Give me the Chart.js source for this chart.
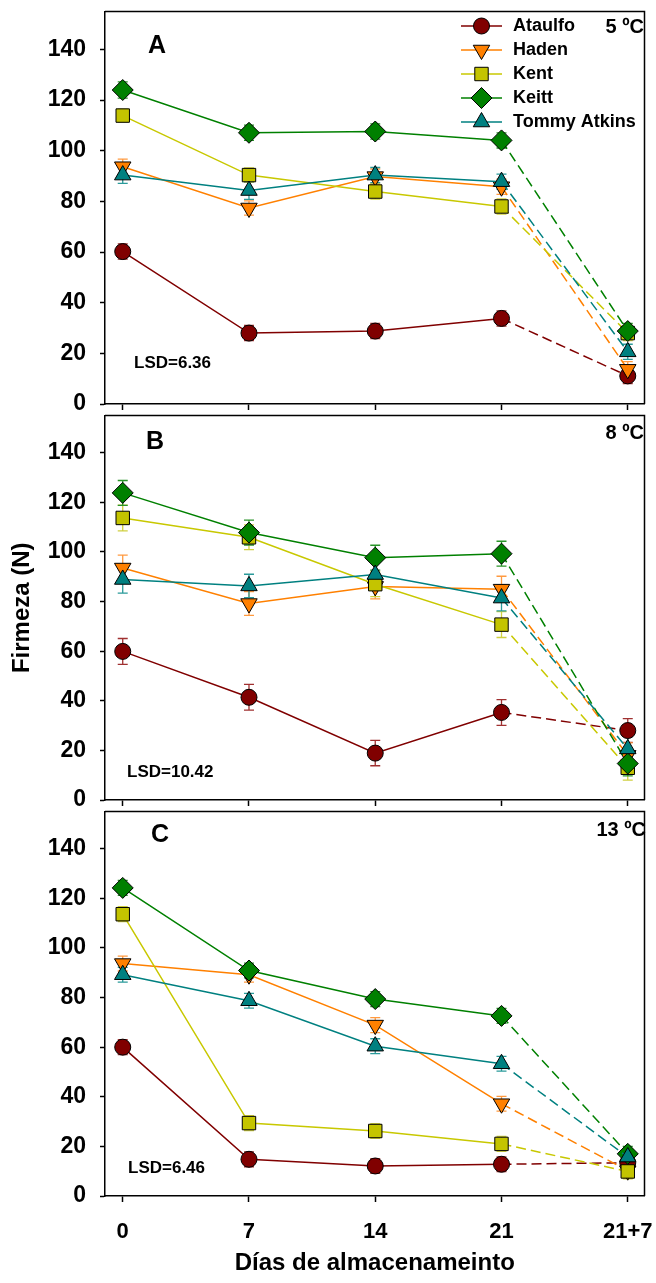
<!DOCTYPE html>
<html><head><meta charset="utf-8">
<script src="https://cdn.jsdelivr.net/npm/chart.js@4.4.0/dist/chart.umd.min.js"></script>
<style>
html,body{margin:0;padding:0;background:#fff}
body{width:656px;height:1283px;position:relative;overflow:hidden}
canvas{position:absolute;left:0}
</style></head><body>
<canvas id="cA" width="656" height="424" style="top:0px"></canvas>
<canvas id="cB" width="656" height="416" style="top:404px"></canvas>
<canvas id="cC" width="656" height="483" style="top:800px"></canvas>
<script>
// ---------- DATA ----------
const categories = ['0', '7', '14', '21', '21+7'];
const xPositions = [0, 1, 2, 3, 4];
const seriesNames = ['Ataulfo', 'Haden', 'Kent', 'Keitt', 'Tommy Atkins'];
const yTicks = [0, 20, 40, 60, 80, 100, 120, 140];

// Panel A (5 ºC)
const A_ataulfo = [60.2, 28.0, 28.8, 33.8, 11.1];
const A_haden   = [93.7, 77.4, 89.8, 85.8, 13.7];
const A_kent    = [113.9, 90.4, 83.9, 78.0, 28.0];
const A_keitt   = [124.0, 107.1, 107.6, 104.1, 28.8];
const A_tommy   = [90.4, 84.3, 90.4, 87.8, 20.6];
const A_ataulfoErr = [3.0, 3.0, 3.0, 3.0, 3.0];
const A_hadenErr   = [3.0, 2.8, 3.0, 3.0, 3.0];
const A_kentErr    = [2.5, 2.8, 3.0, 3.0, 3.0];
const A_keittErr   = [3.2, 3.0, 3.0, 3.0, 3.0];
const A_tommyErr   = [3.3, 3.5, 3.0, 3.0, 3.0];

// Panel B (8 ºC)
const B_ataulfo = [59.9, 41.4, 18.9, 35.3, 28.0];
const B_haden   = [93.5, 79.2, 86.1, 85.0, 18.0];
const B_kent    = [113.7, 105.9, 87.0, 70.7, 13.0];
const B_keitt   = [123.8, 107.8, 97.7, 99.3, 14.7];
const B_tommy   = [88.9, 86.3, 90.9, 81.4, 20.6];
const B_ataulfoErr = [5.2, 5.2, 5.1, 5.2, 4.8];
const B_hadenErr   = [5.2, 4.8, 5.0, 5.2, 5.0];
const B_kentErr    = [5.2, 5.0, 5.0, 5.2, 5.0];
const B_keittErr   = [5.0, 5.0, 5.0, 5.0, 5.0];
const B_tommyErr   = [5.5, 4.7, 5.0, 5.2, 5.0];

// Panel C (13 ºC)
const C_ataulfo = [60.0, 14.8, 12.1, 12.8, 13.4];
const C_haden   = [93.7, 89.2, 68.9, 37.2, 10.2];
const C_kent    = [113.6, 29.4, 26.2, 21.0, 9.9];
const C_keitt   = [124.2, 90.9, 79.4, 72.6, 17.0];
const C_tommy   = [89.2, 78.7, 60.4, 53.3, 15.7];
const C_ataulfoErr = [3.0, 3.0, 3.0, 3.0, 3.0];
const C_hadenErr   = [3.0, 3.0, 3.0, 3.0, 3.0];
const C_kentErr    = [3.0, 3.0, 3.0, 3.0, 3.0];
const C_keittErr   = [3.0, 3.0, 3.0, 3.0, 3.0];
const C_tommyErr   = [3.0, 3.0, 3.0, 3.0, 3.0];

// ---------- STYLE ----------
const FONT = "'Liberation Sans', Arial, sans-serif";
const styles = [
  { line: '#800000', fill: '#800000', err: '#a03030', pointStyle: 'circle',   radius: 8,   rotation: 0 },
  { line: '#ff8000', fill: '#ff8000', err: '#ff9a40', pointStyle: 'triangle', radius: 9.5, rotation: 180 },
  { line: '#c8c800', fill: '#c4c400', err: '#d0d040', pointStyle: 'rect',     radius: 9.5, rotation: 0 },
  { line: '#008000', fill: '#008000', err: '#2a942a', pointStyle: 'rectRot',  radius: 10.5, rotation: 0 },
  { line: '#008080', fill: '#008080', err: '#2a9a9a', pointStyle: 'triangle', radius: 9.5, rotation: 0 }
];

function buildDatasets(valueArrays, errArrays) {
  return valueArrays.map((vals, i) => {
    const s = styles[i];
    return {
      label: seriesNames[i],
      data: xPositions.map((x, j) => ({ x: x, y: vals[j] })),
      errors: errArrays[i],
      errColor: s.err,
      borderColor: s.line,
      backgroundColor: s.fill,
      borderWidth: 1.5,
      pointStyle: s.pointStyle,
      pointRadius: s.radius,
      pointRotation: s.rotation,
      pointBackgroundColor: s.fill,
      pointBorderColor: '#000',
      pointBorderWidth: 1,
      fill: false,
      tension: 0,
      order: 4 - i,
      segment: { borderDash: ctx => ctx.p1DataIndex === 4 ? [10, 5] : undefined }
    };
  });
}

function zeroPad(s) { s.paddingLeft = 0; s.paddingRight = 0; s.paddingTop = 0; s.paddingBottom = 0; }

// ---------- PLUGINS ----------
const errorBarPlugin = {
  id: 'errorBars',
  beforeDatasetsDraw(chart) {
    const { ctx } = chart;
    const xs = chart.scales.x, ys = chart.scales.y;
    chart.data.datasets.forEach(ds => {
      ctx.save();
      ctx.strokeStyle = ds.errColor;
      ctx.lineWidth = 1.3;
      ds.data.forEach((p, i) => {
        const e = ds.errors[i];
        const px = xs.getPixelForValue(p.x);
        const y1 = ys.getPixelForValue(p.y + e);
        const y2 = ys.getPixelForValue(p.y - e);
        ctx.beginPath();
        ctx.moveTo(px, y1); ctx.lineTo(px, y2);
        ctx.moveTo(px - 5, y1); ctx.lineTo(px + 5, y1);
        ctx.moveTo(px - 5, y2); ctx.lineTo(px + 5, y2);
        ctx.stroke();
      });
      ctx.restore();
    });
  }
};

const framePlugin = {
  id: 'frame',
  afterDraw(chart) {
    const { ctx, chartArea: a } = chart;
    ctx.save();
    ctx.strokeStyle = '#000';
    ctx.lineWidth = 1.5;
    ctx.beginPath();
    ctx.moveTo(a.left, a.top); ctx.lineTo(a.right, a.top); ctx.lineTo(a.right, a.bottom);
    ctx.stroke();
    ctx.restore();
  }
};

const panelTextPlugin = {
  id: 'panelText',
  afterDraw(chart, args, opts) {
    const { ctx } = chart;
    (opts.items || []).forEach(it => {
      ctx.save();
      ctx.fillStyle = '#000';
      ctx.font = 'bold ' + it.size + 'px ' + FONT;
      ctx.textAlign = it.align || 'left';
      ctx.textBaseline = 'middle';
      ctx.fillText(it.text, it.x, it.y);
      ctx.restore();
    });
  }
};

const legendPlugin = {
  id: 'customLegend',
  afterDraw(chart, args, opts) {
    if (!opts.show) return;
    const { ctx } = chart;
    chart.data.datasets.forEach((ds, i) => {
      const y = opts.y0 + i * opts.dy;
      ctx.save();
      ctx.strokeStyle = ds.borderColor;
      ctx.lineWidth = 1.5;
      ctx.beginPath(); ctx.moveTo(opts.x0, y); ctx.lineTo(opts.x1, y); ctx.stroke();
      ctx.fillStyle = ds.pointBackgroundColor;
      ctx.strokeStyle = '#000';
      ctx.lineWidth = 1;
      Chart.helpers.drawPoint(ctx, { pointStyle: ds.pointStyle, radius: ds.pointRadius, rotation: ds.pointRotation, borderWidth: 1 }, (opts.x0 + opts.x1) / 2, y);
      ctx.fillStyle = '#000';
      ctx.font = 'bold 18px ' + FONT;
      ctx.textAlign = 'left';
      ctx.textBaseline = 'middle';
      ctx.fillText(ds.label, opts.xt, y);
      ctx.restore();
    });
  }
};

// ---------- CHARTS ----------
function makeChart(id, datasets, cfg) {
  return new Chart(document.getElementById(id), {
    type: 'line',
    data: { datasets: datasets },
    plugins: [errorBarPlugin, framePlugin, panelTextPlugin, legendPlugin],
    options: {
      responsive: false,
      animation: false,
      devicePixelRatio: 1,
      layout: { padding: { top: cfg.padTop, right: 3, left: 0, bottom: cfg.padBottom } },
      plugins: {
        legend: { display: false },
        tooltip: { enabled: false },
        panelText: { items: cfg.texts },
        customLegend: cfg.legend || { show: false }
      },
      scales: {
        x: {
          type: 'linear',
          min: -0.1404,
          max: 4.1326,
          afterBuildTicks: s => { s.ticks = xPositions.map(v => ({ value: v })); },
          afterFit: s => { s.height = cfg.xHeight; zeroPad(s); },
          grid: { display: true, drawOnChartArea: false, drawTicks: true, tickLength: 6, tickColor: '#000', tickWidth: 1.5 },
          border: { display: true, color: '#000', width: 1.5 },
          ticks: {
            display: cfg.xLabels,
            color: '#000',
            padding: 17,
            maxRotation: 0,
            autoSkip: false,
            font: { family: FONT, size: 22, weight: 'bold' },
            callback: v => categories[xPositions.indexOf(v)]
          },
          title: {
            display: cfg.xLabels,
            text: 'Días de almacenameinto',
            color: '#000',
            font: { family: FONT, size: 24, weight: 'bold' },
            padding: { top: 0, bottom: 5 }
          }
        },
        y: {
          type: 'linear',
          min: 0,
          max: 155,
          afterBuildTicks: s => { s.ticks = yTicks.map(v => ({ value: v })); },
          afterFit: s => { s.width = 105; zeroPad(s); },
          grid: { display: true, drawOnChartArea: false, drawTicks: true, tickLength: 5, tickColor: '#000', tickWidth: 1.5 },
          border: { display: true, color: '#000', width: 1.5 },
          ticks: { color: '#000', padding: 14, font: { family: FONT, size: 23, weight: 'bold' } },
          title: {
            display: cfg.yTitle,
            text: 'Firmeza (N)',
            color: '#000',
            font: { family: FONT, size: 24, weight: 'bold' },
            padding: { top: 8, bottom: 0 }
          }
        }
      }
    }
  });
}

makeChart('cA',
  buildDatasets([A_ataulfo, A_haden, A_kent, A_keitt, A_tommy], [A_ataulfoErr, A_hadenErr, A_kentErr, A_keittErr, A_tommyErr]),
  { padTop: 8, padBottom: 10, xHeight: 10, xLabels: false, yTitle: false,
    texts: [
      { text: 'A', x: 157, y: 46, size: 25, align: 'center' },
      { text: '5 ºC', x: 644, y: 27, size: 20, align: 'right' },
      { text: 'LSD=6.36', x: 134, y: 363, size: 17, align: 'left' }
    ],
    legend: { show: true, x0: 461, x1: 502, xt: 513, y0: 26, dy: 24 }
  });

makeChart('cB',
  buildDatasets([B_ataulfo, B_haden, B_kent, B_keitt, B_tommy], [B_ataulfoErr, B_hadenErr, B_kentErr, B_keittErr, B_tommyErr]),
  { padTop: 0, padBottom: 10, xHeight: 10, xLabels: false, yTitle: true,
    texts: [
      { text: 'B', x: 155, y: 38, size: 25, align: 'center' },
      { text: '8 ºC', x: 644, y: 29, size: 20, align: 'right' },
      { text: 'LSD=10.42', x: 127, y: 368, size: 17, align: 'left' }
    ]
  });

makeChart('cC',
  buildDatasets([C_ataulfo, C_haden, C_kent, C_keitt, C_tommy], [C_ataulfoErr, C_hadenErr, C_kentErr, C_keittErr, C_tommyErr]),
  { padTop: 0, padBottom: 0, xHeight: 87, xLabels: true, yTitle: false,
    texts: [
      { text: 'C', x: 160, y: 35, size: 25, align: 'center' },
      { text: '13 ºC', x: 646, y: 30, size: 20, align: 'right' },
      { text: 'LSD=6.46', x: 128, y: 368, size: 17, align: 'left' }
    ]
  });
</script>
</body></html>
